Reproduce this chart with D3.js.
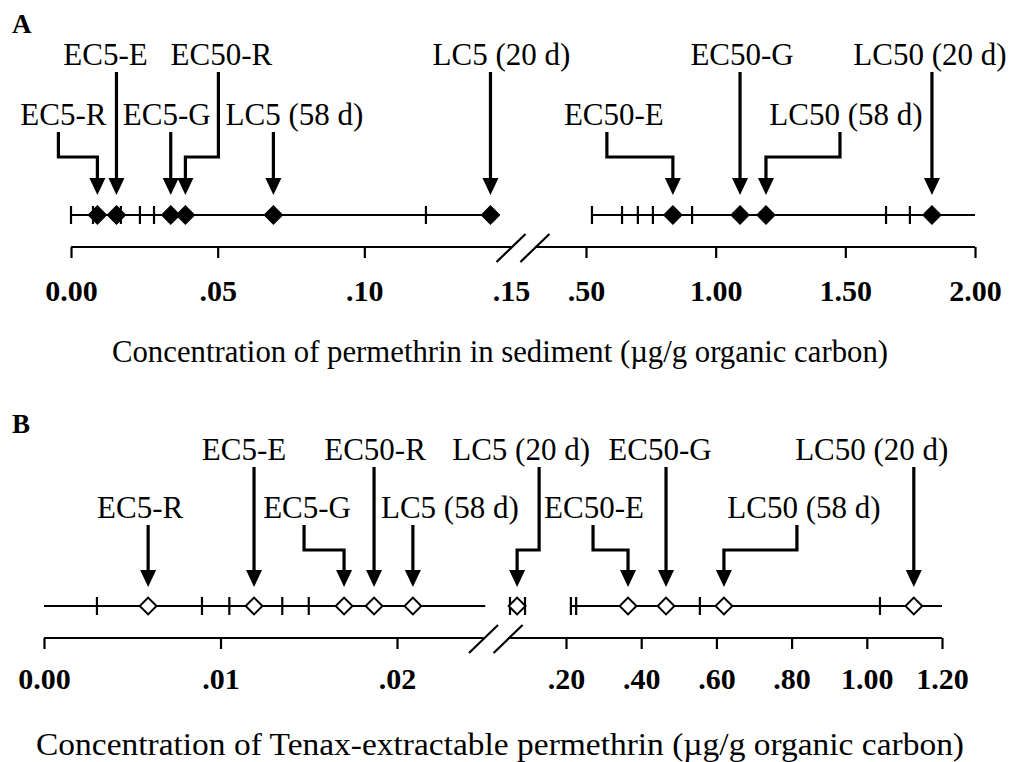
<!DOCTYPE html>
<html><head><meta charset="utf-8">
<script src="https://cdn.jsdelivr.net/npm/d3@7"></script>
<style>html,body{margin:0;padding:0;background:#fff;} svg{display:block}</style>
</head><body><svg id="chart" width="1010" height="762"></svg>
<script>
// ---------------- Data ----------------
const markerNames = ["EC5-R","EC5-E","EC5-G","EC50-R","LC5 (58 d)","LC5 (20 d)","EC50-E","EC50-G","LC50 (58 d)","LC50 (20 d)"];
// Panel A: concentration of permethrin in sediment (µg/g OC)
const sedimentValues = [0.009,0.0155,0.034,0.039,0.069,0.143,0.835,1.094,1.194,1.834];
const sedimentTicks = [0,0.0075,0.017,0.0235,0.0283,0.121,0.523,0.639,0.700,0.758,0.909,1.657,1.749];
const sedimentLineSpans = [[0,0.1503],[0.523,2.0]];
const sedimentAxisValues = [0,0.05,0.10,0.15,0.50,1.00,1.50,2.00];
const sedimentAxisLabels = ["0.00",".05",".10",".15",".50","1.00","1.50","2.00"];
// Panel B: concentration of Tenax-extractable permethrin (µg/g OC)
const tenaxValues = [0.0059,0.0119,0.0170,0.0187,0.0209,0.070,0.365,0.466,0.620,1.125];
const tenaxTicks = [0.0030,0.00895,0.0105,0.0135,0.0150,0.051,0.091,0.213,0.227,0.556,1.035];
const tenaxLineSpans = [[0,0.025],[0.051,0.091],[0.213,1.2]];
const tenaxAxisValues = [0,0.01,0.02,0.20,0.40,0.60,0.80,1.00,1.20];
const tenaxAxisLabels = ["0.00",".01",".02",".20",".40",".60",".80","1.00","1.20"];

// ---------------- Layout ----------------
const FONT = "'Liberation Serif','Times New Roman',Times,serif";
const panels = [
  { letter:"A", letterY:33, values:sedimentValues, ticks:sedimentTicks, lineSpans:sedimentLineSpans,
    axisValues:sedimentAxisValues, axisLabels:sedimentAxisLabels, noTick:[0.15],
    split:0.15, left:{domain:[0,0.15], range:[71,511]}, right:{domain:[0.5,2.0], range:[586,975]},
    axisSpans:[[0,0.15],[0.303,2.0]], filled:true,
    rowY:[65,125], shaftY:[72,132], elbowY:157, tipY:195, lineY:215, axisY:247, tickLabelY:301, titleY:362,
    title:"Concentration of permethrin in sediment (µg/g organic carbon)", titleW:776,
    ann:[[1,-34,-39],[0,-11,0],[1,-4,0],[0,36,33],[1,21,0],[0,11,0],[1,-59,-66],[0,2,0],[1,80,74],[0,-2,0]] },
  { letter:"B", letterY:433, values:tenaxValues, ticks:tenaxTicks, lineSpans:tenaxLineSpans,
    axisValues:tenaxAxisValues, axisLabels:tenaxAxisLabels, noTick:[],
    split:0.025, left:{domain:[0,0.025], range:[44,485.25]}, right:{domain:[0.2,1.2], range:[566,942]},
    axisSpans:[[0,0.0249],[0.046,1.2]], filled:false,
    rowY:[460,518], shaftY:[467,525], elbowY:550, tipY:587, lineY:606, axisY:638, tickLabelY:689, titleY:755,
    title:"Concentration of Tenax-extractable permethrin (µg/g organic carbon)", titleW:928,
    ann:[[1,-8,0],[0,-10,0],[1,-37,-40],[0,1,0],[1,37,0],[0,4,22],[1,-34,-35],[0,-6,0],[1,80,73],[0,-42,0]] }
];

const svg = d3.select("#chart");
svg.append("rect").attr("width",1010).attr("height",762).attr("fill","#fff");

panels.forEach(p => {
  const sL = d3.scaleLinear().domain(p.left.domain).range(p.left.range);
  const sR = d3.scaleLinear().domain(p.right.domain).range(p.right.range);
  const X = v => v <= p.split ? sL(v) : sR(v);
  const g = svg.append("g");

  // panel letter
  g.append("text").attr("x",12).attr("y",p.letterY).text(p.letter)
    .attr("font-family",FONT).attr("font-size",27).attr("font-weight","bold");

  // ---- axis ----
  const labelOf = v => p.axisLabels[p.axisValues.indexOf(v)];
  [[sL, p.axisValues.filter(v=>v<=p.split)], [sR, p.axisValues.filter(v=>v>p.split)]].forEach(([sc, vals]) => {
    const ax = d3.axisBottom(sc).tickValues(vals).tickSize(11).tickSizeOuter(0).tickFormat(labelOf);
    const ag = g.append("g").attr("transform",`translate(0,${p.axisY})`).call(ax);
    ag.select(".domain").remove();
    ag.selectAll(".tick line").attr("stroke","#000").attr("stroke-width",2.2)
      .filter(d => p.noTick.includes(d)).remove();
    ag.selectAll(".tick text").attr("y", p.tickLabelY - p.axisY).attr("dy",0)
      .attr("font-family",FONT).attr("font-size",30).attr("font-weight","bold").attr("fill","#000");
  });
  p.axisSpans.forEach(([a,b]) => {
    g.append("line").attr("x1",X(a)).attr("x2",X(b)).attr("y1",p.axisY).attr("y2",p.axisY)
      .attr("stroke","#000").attr("stroke-width",2.2);
  });
  // break marks at the inner ends of the axis spans
  [X(p.axisSpans[0][1]), X(p.axisSpans[1][0])].forEach(cx => {
    g.append("line").attr("x1",cx-14.5).attr("y1",p.axisY+15).attr("x2",cx+14.5).attr("y2",p.axisY-13)
      .attr("stroke","#000").attr("stroke-width",2.2);
  });

  // ---- number line ----
  p.lineSpans.forEach(([a,b]) => {
    g.append("line").attr("x1",X(a)).attr("x2",X(b)).attr("y1",p.lineY).attr("y2",p.lineY)
      .attr("stroke","#000").attr("stroke-width",2.2);
  });
  g.selectAll(".ci").data(p.ticks).join("line")
    .attr("x1",d=>X(d)).attr("x2",d=>X(d)).attr("y1",p.lineY-9).attr("y2",p.lineY+9)
    .attr("stroke","#000").attr("stroke-width",2.2);

  // ---- diamonds ----
  const sym = d3.symbol().type(d3.symbolSquare).size(p.filled ? 170 : 140);
  g.selectAll(".pt").data(p.values).join("path")
    .attr("d", sym)
    .attr("transform", d => `translate(${X(d)},${p.lineY}) rotate(45)`)
    .attr("fill", p.filled ? "#000" : "#fff")
    .attr("stroke","#000").attr("stroke-width", p.filled ? 1 : 2);

  // ---- annotations ----
  const headH = 17, headW = 8;
  p.values.forEach((v,i) => {
    const [row, ldx, sdx] = p.ann[i];
    const tx = X(v);
    g.append("text").attr("x",tx+ldx).attr("y",p.rowY[row]).attr("text-anchor","middle")
      .attr("font-family",FONT).attr("font-size",31).attr("fill","#000").text(markerNames[i]);
    const path = d3.path();
    if (sdx !== 0) {
      path.moveTo(tx+sdx, p.shaftY[row]);
      path.lineTo(tx+sdx, p.elbowY);
      path.lineTo(tx, p.elbowY);
      path.lineTo(tx, p.tipY - headH + 2);
    } else {
      path.moveTo(tx, p.shaftY[row]);
      path.lineTo(tx, p.tipY - headH + 2);
    }
    g.append("path").attr("d",path.toString()).attr("fill","none")
      .attr("stroke","#000").attr("stroke-width",3.2).attr("stroke-linejoin","miter");
    g.append("path")
      .attr("d",`M${tx-headW},${p.tipY-headH} L${tx+headW},${p.tipY-headH} L${tx},${p.tipY} Z`)
      .attr("fill","#000");
  });

  // ---- axis title ----
  g.append("text").attr("x",500).attr("y",p.titleY).attr("text-anchor","middle")
    .attr("font-family",FONT).attr("font-size",31).attr("fill","#000")
    .attr("textLength",p.titleW).attr("lengthAdjust","spacingAndGlyphs").text(p.title);
});
</script>
</body></html>
